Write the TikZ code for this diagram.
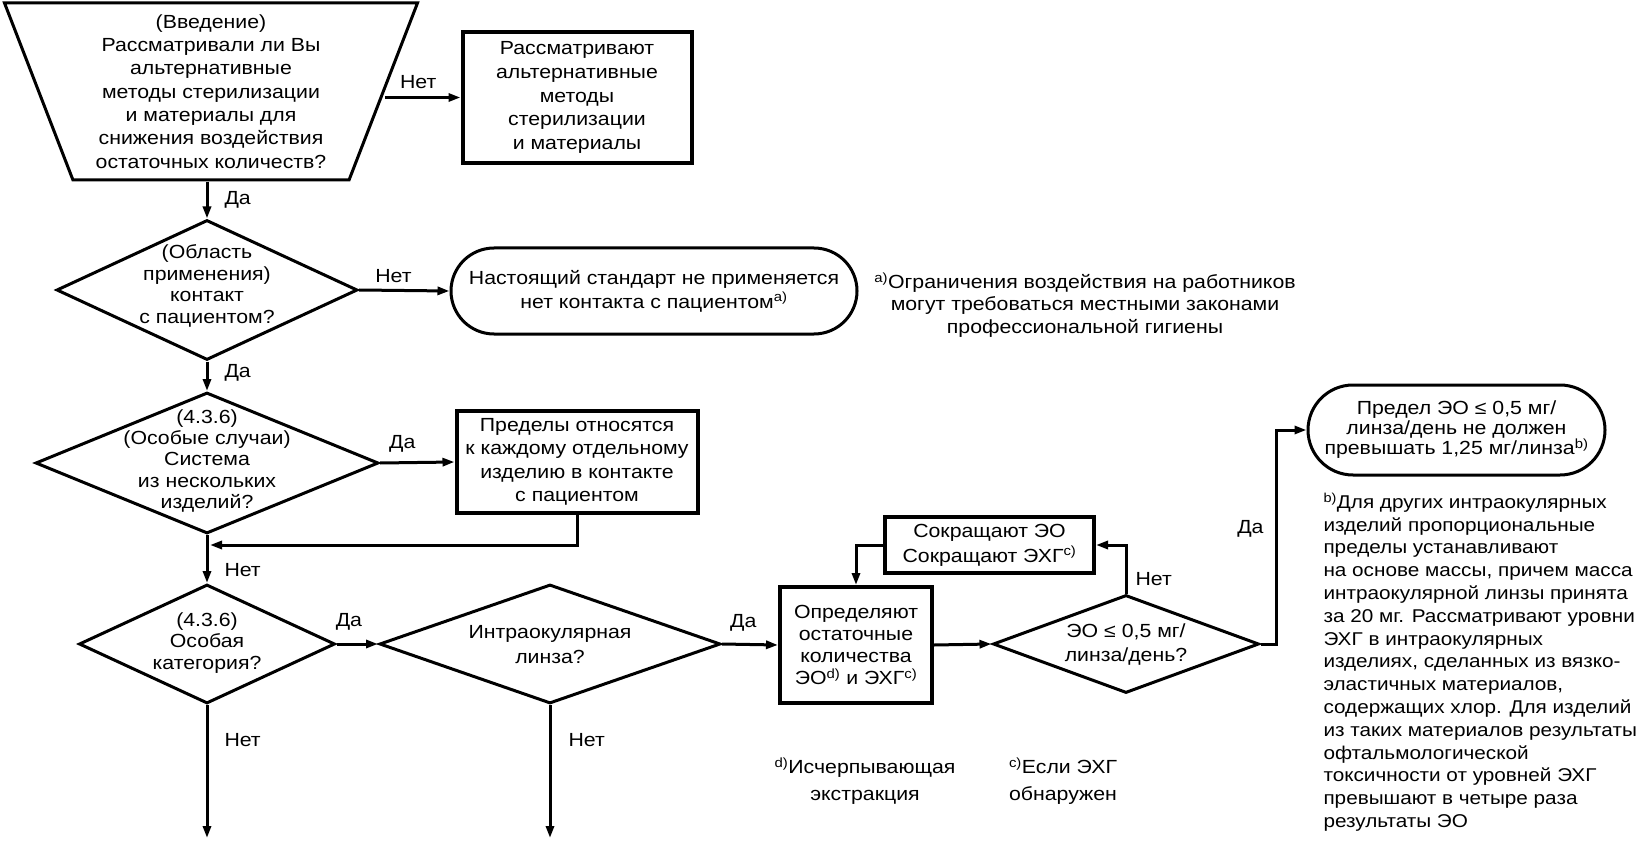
\documentclass[tikz,border=0pt]{standalone}
\usepackage{fontspec}
\setmainfont{Liberation Sans}[FakeStretch=1.12]
\usetikzlibrary{arrows.meta,shapes.geometric,positioning}

\newcommand{\fs}[1]{\fontsize{19}{#1}\selectfont}

\begin{document}
\begin{tikzpicture}[x=1pt, y=-1pt, line width=3pt,
  >={Triangle[length=12pt,width=8pt]},
  every node/.style={font=\fs{22.5}},
  dec/.style={diamond, draw, inner sep=0pt},
  blk/.style={rectangle, draw, line width=4pt, inner sep=0pt, align=center},
  term/.style={rectangle, draw, rounded corners=#1, inner sep=0pt, align=center},
  txt/.style={align=center, inner sep=0pt},
  ans/.style={inner sep=0pt}]
  \useasboundingbox (0,0) rectangle (1646,842);

  % left column
  \node [trapezium, draw, shape border rotate=180, trapezium angle=66, trapezium stretches body,
         minimum width=413pt, minimum height=177pt, inner sep=0pt, align=center, font=\fs{23.3}]
        (intro) at (211,91.5) {(Введение)\\Рассматривали ли Вы\\альтернативные\\методы стерилизации\\и материалы для\\снижения воздействия\\остаточных количеств?};
  \node [blk, minimum width=229pt, minimum height=131pt, font=\fs{23.7}] (alt) at (577,97.5)
        {Рассматривают\\альтернативные\\методы\\стерилизации\\и материалы};

  \node [dec, minimum width=301pt, minimum height=140pt] (scope) at (207,290) {};
  \node [txt, font=\fs{21.7}] (scopeT) at (207,286) {(Область\\применения)\\контакт\\с пациентом?};
  \node [term=43pt, minimum width=406pt, minimum height=86pt, font=\fs{24}] (stop) at (654,291)
        {Настоящий стандарт не применяется\\нет контакта с пациентом\textsuperscript{a)}};
  \node [txt] (noteA) at (1085,305)
        {\textsuperscript{a)}Ограничения воздействия на работников\\могут требоваться местными законами\\профессиональной гигиены};

  \node [dec, minimum width=343pt, minimum height=141pt] (multi) at (207,463) {};
  \node [txt, font=\fs{21.3}] (multiT) at (207,461) {(4.3.6)\\(Особые случаи)\\Система\\из нескольких\\изделий?};
  \node [blk, minimum width=241pt, minimum height=102pt, font=\fs{23.5}] (lims) at (577,462)
        {Пределы относятся\\к каждому отдельному\\изделию в контакте\\с пациентом};
  \coordinate (merge) at (210,545);

  \node [dec, minimum width=256pt, minimum height=119pt] (cat) at (207,644) {};
  \node [txt, font=\fs{21.5}] (catT) at (207,643) {(4.3.6)\\Особая\\категория?};
  \node [dec, minimum width=341pt, minimum height=119pt] (iol) at (550,644) {};
  \node [txt, font=\fs{25}] (iolT) at (550,645) {Интраокулярная\\линза?};
  \coordinate (outA) at (207,838);
  \coordinate (outB) at (550,838);

  % right part
  \node [blk, minimum width=152pt, minimum height=116pt, font=\fs{22.3}] (meas) at (856,645)
        {Определяют\\остаточные\\количества\\ЭО\textsuperscript{d)} и ЭХГ\textsuperscript{c)}};
  \node [dec, minimum width=266pt, minimum height=98pt] (dose) at (1126,644) {};
  \node [txt, font=\fs{24}] (doseT) at (1126,645) {ЭО ≤ 0,5 мг/\\линза/день?};
  \node [blk, minimum width=209pt, minimum height=56pt, font=\fs{25}] (cut) at (989.5,545)
        {Сокращают ЭО\\Сокращают ЭХГ\textsuperscript{c)}};
  \coordinate (bend) at (1276,644);
  \node [term=45pt, minimum width=297pt, minimum height=90pt, font=\fs{20}] (lim) at (1456.5,430)
        {Предел ЭО ≤ 0,5 мг/\\линза/день не должен\\превышать 1,25 мг/линза\textsuperscript{b)}};

  \node [txt, align=left, anchor=west, font=\fontsize{18.5}{22.8}\selectfont] (noteB) at (1322,662)
        {\textsuperscript{b)}Для других интраокулярных\\изделий пропорциональные\\пределы устанавливают\\на основе массы, причем масса\\интраокулярной линзы принята\\за 20 мг. Рассматривают уровни\\ЭХГ в интраокулярных\\изделиях, сделанных из вязко-\\эластичных материалов,\\содержащих хлор. Для изделий\\из таких материалов результаты\\офтальмологической\\токсичности от уровней ЭХГ\\превышают в четыре раза\\результаты ЭО};
  \node [txt, font=\fs{27}] (noteD) at (865,781) {\textsuperscript{d)}Исчерпывающая\\экстракция};
  \node [txt, font=\fs{27}] (noteC) at (1063,781) {\textsuperscript{c)}Если ЭХГ\\обнаружен};

  \path[->]
  (intro.east |- alt.west) edge node[ans, pos=0.44, above=7pt] {Нет} (alt.west)
  (intro.south -| scope.north) edge node[ans, right=16pt] {Да} (scope.north)
  (scope.east) edge node[ans, pos=0.38, above=6pt] {Нет} (stop.west)
  (scope.south) edge node[ans, pos=0.375, right=16pt] {Да} (multi.north)
  (multi.east) edge node[ans, pos=0.3, above=9pt] {Да} (lims.west)
  (multi.south) edge node[ans, pos=0.73, right=16pt] {Нет} (cat.north)
  (cat.east) edge node[ans, pos=0.3, above=12pt] {Да} (iol.west)
  (iol.east) edge node[ans, pos=0.38, above=12pt] {Да} (meas.west)
  (meas.east) edge (dose.west)
  (cat.south) edge node[ans, pos=0.26, right=16pt] {Нет} (outA)
  (iol.south) edge node[ans, pos=0.26, right=17pt] {Нет} (outB)
  ;
  \draw[->] (lims.south) |- (merge);
  \draw[->] (dose.north) |- node[ans, pos=0.15, right=8pt] {Нет} (cut.east);
  \draw[->] (cut.west) -| (meas.north);
  \draw[->] (dose.east) -- (bend) |- node[ans, pos=0.27, left=11pt] {Да} (lim.west);
\end{tikzpicture}
\end{document}
